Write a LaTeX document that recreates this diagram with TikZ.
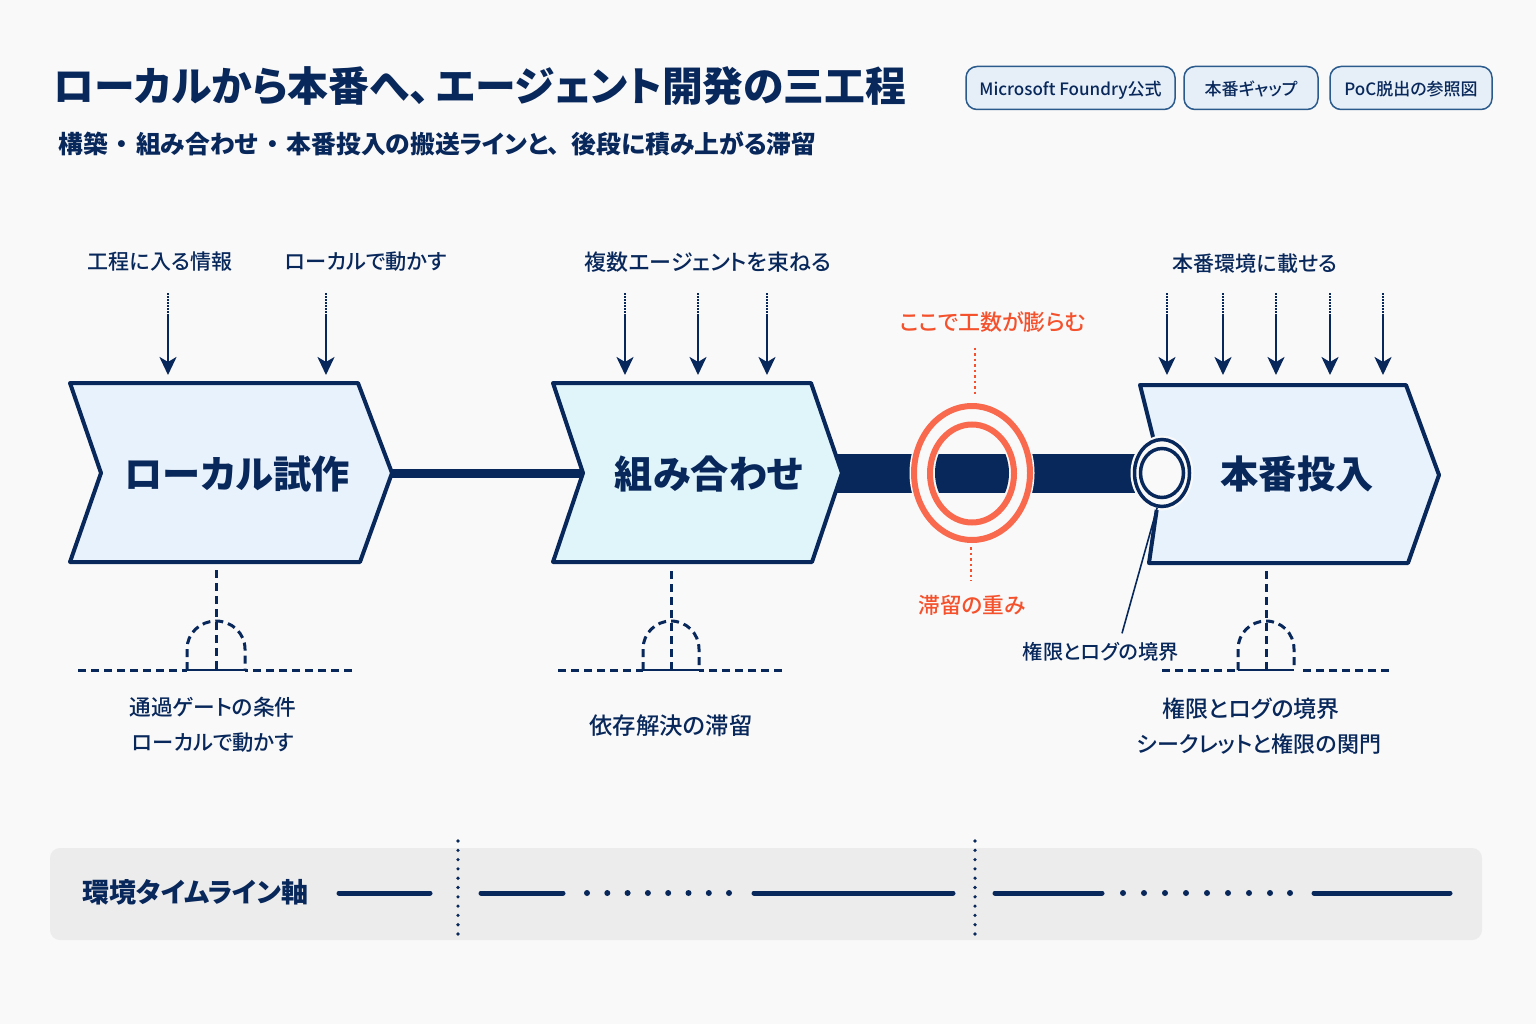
\documentclass[tikz,border=0pt]{standalone}
\usepackage{fontspec}
\setmainfont{Noto Sans CJK JP}[RawFeature=+palt]
\newfontfamily\medfont{Noto Sans CJK JP Medium}[RawFeature=+palt]
\usetikzlibrary{positioning}
\usetikzlibrary{shapes.geometric}
\usetikzlibrary{arrows.meta}
\definecolor{navy}{HTML}{08275A}
\definecolor{redtxt}{HTML}{F4512C}
\definecolor{redring}{HTML}{F8694D}
\definecolor{pagebg}{HTML}{F9F9F9}
\definecolor{bandbg}{HTML}{ECECEC}
\definecolor{chevblue}{HTML}{E8F2FC}
\definecolor{chevcyan}{HTML}{DFF5FA}
\definecolor{pillbg}{HTML}{E6EFF7}
\definecolor{pilledge}{HTML}{2B5A8C}
\newcommand{\fsz}[1]{\fontsize{#1pt}{#1pt}\selectfont}
\newcommand{\subdot}{\kern8pt・\kern8pt}
\begin{document}
\begin{tikzpicture}[x=1pt,y=-1pt,>={Stealth[length=18pt,width=17pt,inset=5pt]},
	lbl/.style={inner sep=0pt,text=navy,font=\medfont\fsz{#1}},
	lbl/.default=21,
	redlbl/.style={lbl=#1,text=redtxt},
	chev/.style={draw=navy,line width=4pt,line join=round},
	chevlbl/.style={inner sep=0pt,text=navy,font=\bfseries\fsz{38.2}},
	pill/.style={draw=pilledge,fill=pillbg,line width=1.5pt,rounded corners=11pt,outer sep=0pt,
				minimum height=43pt,inner sep=0pt,text height=20pt,text depth=4pt,text=navy,font=\medfont\fsz{17}},
	inarrow/.style={->,draw=navy,line width=2.5pt},
	indots/.style={draw=navy,line width=2pt,dash pattern=on 1.5pt off 1.5pt},
	gateline/.style={draw=navy,line width=3pt,dash pattern=on 8pt off 5pt},
	reddots/.style={draw=redtxt,line width=2.5pt,dash pattern=on 2.5pt off 3pt},
	axisline/.style={draw=navy,line width=5pt,line cap=round},
	axisdots/.style={draw=navy,line width=3.6pt,line cap=round,dash pattern=on 0pt off 9.3pt},
	axisdot/.style={circle,fill=navy,inner sep=0pt,minimum size=6pt}]
	\useasboundingbox (0,0) rectangle (1536,1024);
	\fill[pagebg] (0,0) rectangle (1536,1024);

	% heading and tags
	\node[anchor=west,inner sep=0pt,text=navy,font=\bfseries\fsz{40.8}] (title) at (53,86) {ローカルから本番へ、\kern7ptエージェント開発の三工程};
	\node[anchor=west,inner sep=0pt,text=navy,font=\bfseries\fsz{24.8}] (subtitle) at (58,144) {構築\subdot 組み合わせ\subdot 本番投入の搬送ラインと、\kern12pt 後段に積み上がる滞留};
	\node[pill,anchor=west,minimum width=209pt] (pill1) at (966,88) {Microsoft Foundry公式};
	\node[pill,right=9pt of pill1,minimum width=134pt] (pill2) {本番ギャップ};
	\node[pill,right=12pt of pill2,minimum width=162pt] (pill3) {PoC脱出の参照図};

	% stage corners
	\coordinate (c1tip) at (392,473);
	\coordinate (c2notch) at (583,473);
	\coordinate (c2tip) at (842,473);
	\coordinate (c3notch) at (1162,473);

	% transport bars
	\draw[navy,line width=9pt] (c1tip)--(c2notch);
	\draw[navy,line width=39pt] ([xshift=-20pt]c2tip)--(c3notch);

	% stages
	\draw[chev,fill=chevblue] (70,383)--(358,383)--(c1tip)--(360,562)--(70,562)--(101,473)--cycle;
	\draw[chev,fill=chevcyan] (553,383)--(811,383)--(c2tip)--(812,562)--(553,562)--(c2notch)--cycle;
	\draw[chev,fill=chevblue] (1140,385)--(1406,385)--(1439,475)--(1408,563)--(1149,563)--(c3notch)--cycle;
	\node[chevlbl] (stage1) at (237,474) {ローカル試作};
	\node[chevlbl] (stage2) at (709,474) {組み合わせ};
	\node[chevlbl] (stage3) at (1297,474) {本番投入};

	% congestion rings
	\node[ellipse,draw=redring,fill=pagebg,line width=6pt,minimum width=116pt,minimum height=134pt,inner sep=0pt,
		preaction={draw=pagebg,line width=9pt}] (ringout) at (972,473) {};
	\begin{scope}
		\clip (972,473) ellipse (37pt and 44pt);
		\draw[navy,line width=39pt] (ringout.west)--(ringout.east);
	\end{scope}
	\node[ellipse,draw=redring,line width=6pt,minimum width=84pt,minimum height=98pt,inner sep=0pt] (ringin) at (972,473.5) {};

	% boundary ring
	\node[ellipse,draw=navy,fill=pagebg,line width=3.5pt,minimum width=55pt,minimum height=67pt,inner sep=0pt,
		preaction={draw=pagebg,line width=8pt}] (gateout) at (c3notch) {};
	\node[ellipse,draw=navy,line width=3.5pt,minimum width=43pt,minimum height=49pt,inner sep=0pt] (gatein) at (c3notch) {};

	% upper labels
	\node[lbl] (in1) at (160,262) {工程に入る情報};
	\node[lbl=21.2] (in2) at (366,262) {ローカルで動かす};
	\node[lbl=22] (in3) at (708,262) {複数エージェントを束ねる};
	\node[lbl] (in4) at (1255,264) {本番環境に載せる};
	\node[redlbl=22] (redup) at (993,322) {ここで工数が膨らむ};
	\node[redlbl=21.7] (reddown) at (972,605) {滞留の重み};

	% incoming arrows
	\foreach \x in {168,326,625,698,767,1167,1223,1276,1330,1383}{
		\coordinate (top\x) at (\x,293);
		\coordinate (mid\x) at (\x,316);
		\coordinate (end\x) at (\x,375);
		\draw[indots] (top\x)--(mid\x);
		\draw[inarrow] (mid\x)--(end\x);
	}

	% red pointers
	\draw[reddots] ([xshift=-18pt,yshift=-15pt]redup.south)--([xshift=3pt,yshift=6pt]ringout.north);
	\draw[reddots] ([xshift=-1pt,yshift=-4pt]ringout.south)--([xshift=-1pt,yshift=14pt]reddown.north);

	% leader
	\node[lbl=20.2] (leadlbl) at (1101,652) {権限とログの境界};
	\draw[navy,line width=1.6pt] (gateout.-98)--([xshift=21pt,yshift=9pt]leadlbl.north);

	% gates
	\foreach \cx/\hw/\gap/\la/\rb/\tp in {216/29/0/78/352/570,671/28/0/558/782/571,1266/28/8/1162/1389/571}{
		\coordinate (gl) at (\cx-\hw,670);
		\coordinate (gr) at (\cx+\hw,670);
		\draw[gateline] (\la,670)--(gl);
		\draw[gateline] (\rb,670)--([xshift=\gap pt]gr);
		\draw[gateline] (gl)--(\cx-\hw,649) arc (180:0:\hw pt and 28pt)--(gr);
		\draw[navy,line width=1.8pt] (gl)--(gr);
		\draw[gateline] (\cx,\tp)--(\cx,670);
	}

	% lower labels
	\node[lbl=21.7] (cond1) at (213,707) {通過ゲートの条件};
	\node[lbl=21.3,below=15pt of cond1] (cond1b) {ローカルで動かす};
	\node[lbl=23.4] (cond2) at (671,726) {依存解決の滞留};
	\node[lbl=23] (cond3) at (1251,709) {権限とログの境界};
	\node[lbl=22] (cond3b) at (1259,744) {シークレットと権限の関門};

	% timeline band
	\fill[bandbg,rounded corners=10pt] (50,848) rectangle (1482,940);
	\node[anchor=west,inner sep=0pt,text=navy,font=\bfseries\fsz{27}] (axislbl) at (82,892) {環境タイムライン軸};
	\foreach \a/\b in {339/430,481/563,754/953,995/1102,1314/1450}{
		\draw[axisline] (\a,893)--(\b,893);
	}
	\foreach \x in {587,607.3,627.6,647.9,668.2,688.5,708.8,729,1123,1144,1165,1186,1207,1228,1249,1270,1290}{
		\node[axisdot] (dot\x) at (\x,893) {};
	}
	\foreach \x in {458,975}{
		\draw[axisdots] (\x,841)--(\x,936);
	}
\end{tikzpicture}
\end{document}
